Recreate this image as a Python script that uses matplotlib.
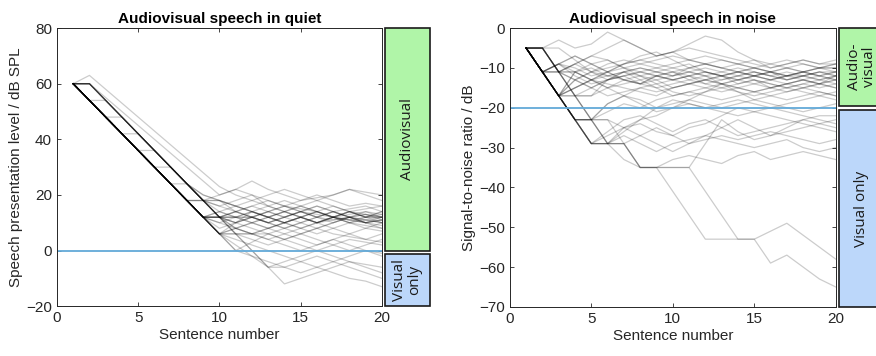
import matplotlib.pyplot as plt
from matplotlib.patches import Rectangle
import matplotlib.transforms as mtransforms
import numpy as np

plt.rcParams['font.family'] = ['Liberation Sans', 'DejaVu Sans']

sentences = np.arange(1, 21)

# adaptive tracks, audiovisual speech in quiet (dB SPL)
quiet_tracks = [
    [60, 54, 48, 42, 36, 30, 24, 18, 12, 12, 12, 12, 14, 12, 10, 12, 11, 12, 10, 11],
    [60, 54, 48, 42, 36, 30, 24, 18, 12, 6, 6, 6, 8, 10, 12, 10, 12, 14, 12, 12],
    [60, 54, 48, 42, 36, 30, 24, 18, 12, 6, 0, 3, 6, 8, 10, 8, 10, 12, 11, 10],
    [60, 54, 48, 42, 36, 30, 24, 18, 18, 18, 14, 12, 10, 12, 14, 16, 14, 12, 13, 12],
    [60, 54, 48, 42, 36, 30, 24, 18, 12, 12, 12, 12, 10, 8, 10, 12, 14, 12, 10, 9],
    [60, 60, 54, 48, 42, 36, 30, 24, 18, 12, 6, 6, 6, 4, 6, 8, 6, 5, 4, 6],
    [60, 60, 54, 48, 42, 36, 30, 24, 18, 12, 6, 0, -6, -4, -2, 0, 2, 4, 3, 2],
    [60, 54, 54, 48, 42, 36, 30, 24, 18, 12, 14, 16, 14, 12, 14, 13, 12, 11, 12, 13],
    [60, 54, 48, 48, 42, 36, 30, 24, 18, 16, 14, 12, 14, 16, 15, 14, 12, 13, 14, 12],
    [60, 54, 48, 42, 42, 36, 30, 24, 18, 14, 12, 10, 12, 14, 12, 10, 11, 12, 10, 11],
    [60, 54, 48, 42, 36, 36, 30, 24, 18, 12, 10, 12, 14, 16, 14, 12, 14, 15, 16, 14],
    [60, 54, 48, 42, 36, 30, 30, 24, 20, 18, 16, 14, 12, 10, 12, 14, 12, 10, 8, 10],
    [60, 63, 58, 53, 48, 43, 38, 33, 28, 23, 20, 18, 16, 14, 12, 10, 12, 14, 13, 12],
    [60, 60, 55, 50, 45, 40, 35, 30, 25, 20, 22, 20, 18, 16, 18, 20, 18, 16, 17, 16],
    [60, 54, 48, 42, 36, 30, 24, 18, 12, 6, 2, -2, -6, -12, -10, -8, -6, -4, -5, -6],
    [60, 54, 48, 42, 36, 30, 24, 18, 12, 6, 4, 2, 0, -2, -4, -6, -8, -10, -11, -13],
    [60, 60, 54, 48, 42, 36, 30, 24, 18, 12, 10, 8, 6, 4, 2, 0, -2, -4, -6, -8],
    [60, 54, 48, 42, 36, 30, 24, 18, 12, 14, 16, 18, 20, 22, 20, 18, 20, 22, 21, 20],
    [60, 54, 48, 42, 36, 30, 24, 18, 18, 20, 22, 25, 22, 20, 18, 19, 20, 22, 20, 18],
    [60, 54, 48, 42, 36, 30, 24, 18, 12, 8, 10, 12, 10, 8, 6, 8, 10, 12, 10, 8],
    [60, 54, 48, 42, 36, 30, 24, 18, 12, 6, 8, 10, 8, 6, 4, 2, 4, 6, 4, 3],
    [60, 60, 54, 48, 42, 36, 30, 24, 18, 12, 14, 12, 10, 12, 14, 16, 14, 12, 14, 13],
    [60, 60, 54, 48, 42, 36, 30, 24, 18, 18, 16, 14, 12, 14, 12, 10, 12, 11, 10, 12],
    [60, 54, 48, 42, 36, 30, 24, 18, 12, 12, 8, 6, 4, 2, 0, 2, 4, 2, 0, -2],
    [60, 54, 48, 42, 36, 30, 24, 24, 20, 18, 16, 14, 16, 18, 16, 14, 12, 14, 12, 14],
    [60, 54, 48, 42, 36, 30, 24, 18, 12, 6, 0, -2, -4, -6, -8, -6, -4, -2, 0, -1],
    [60, 54, 48, 42, 36, 30, 24, 18, 12, 10, 8, 10, 12, 10, 8, 10, 12, 10, 11, 10],
    [60, 54, 48, 42, 36, 30, 24, 18, 12, 12, 14, 16, 18, 16, 14, 12, 10, 12, 13, 11],
    [60, 60, 54, 48, 42, 36, 30, 24, 18, 12, 8, 6, 8, 10, 8, 6, 8, 10, 9, 8],
    [60, 54, 48, 42, 36, 30, 24, 18, 12, 6, 10, 14, 12, 10, 12, 14, 16, 14, 12, 10],
    [60, 54, 48, 42, 36, 30, 24, 18, 18, 16, 18, 20, 16, 14, 16, 18, 16, 14, 15, 16],
    [60, 54, 48, 42, 36, 30, 24, 18, 12, 6, 6, 4, 2, 4, 6, 4, 2, 0, 2, 4],
    [60, 60, 54, 48, 42, 36, 30, 24, 18, 12, 6, 0, -6, -6, -4, -2, -4, -6, -8, -10],
    [60, 54, 48, 42, 36, 30, 24, 18, 12, 12, 10, 12, 10, 12, 14, 12, 14, 12, 11, 12],
    [60, 54, 48, 42, 36, 30, 24, 18, 12, 14, 12, 10, 8, 10, 12, 14, 12, 10, 12, 14],
    [60, 54, 48, 42, 36, 30, 24, 18, 12, 6, 8, 6, 4, 6, 8, 10, 8, 6, 8, 7],
    [60, 54, 48, 42, 36, 30, 24, 18, 12, 12, 12, 14, 12, 10, 12, 10, 12, 11, 10, 11],
    [60, 54, 48, 42, 36, 30, 24, 18, 12, 10, 12, 14, 12, 14, 16, 14, 12, 14, 12, 12],
]

# adaptive tracks, audiovisual speech in noise (dB SNR)
noise_tracks = [
    [-5, -11, -17, -13, -15, -13, -12, -11, -12, -13, -12, -11, -12, -13, -12, -11, -12, -12, -11, -12],
    [-5, -11, -9, -7, -9, -11, -13, -12, -11, -10, -11, -12, -13, -12, -11, -12, -13, -12, -13, -12],
    [-5, -11, -17, -23, -23, -19, -17, -15, -16, -15, -14, -15, -16, -15, -14, -15, -16, -15, -14, -15],
    [-5, -5, -11, -17, -17, -15, -13, -14, -12, -13, -14, -13, -12, -11, -12, -13, -12, -11, -12, -13],
    [-5, -5, -11, -17, -23, -29, -26, -23, -20, -18, -19, -20, -19, -18, -19, -20, -19, -18, -17, -18],
    [-5, -11, -17, -23, -23, -29, -29, -35, -35, -41, -47, -53, -53, -53, -53, -59, -57, -60, -63, -65],
    [-5, -11, -17, -23, -29, -29, -29, -35, -35, -35, -35, -41, -47, -53, -53, -51, -49, -52, -55, -58],
    [-5, -11, -17, -23, -29, -26, -23, -22, -24, -26, -24, -23, -25, -27, -26, -25, -24, -23, -22, -22],
    [-5, -11, -17, -17, -15, -13, -11, -10, -11, -12, -10, -9, -8, -9, -10, -11, -10, -9, -10, -10],
    [-5, -5, -11, -9, -7, -8, -10, -9, -8, -7, -8, -9, -10, -9, -8, -9, -10, -11, -10, -9],
    [-5, -11, -11, -9, -7, -5, -3, -5, -7, -6, -5, -6, -7, -8, -9, -10, -9, -8, -9, -8],
    [-5, -5, -3, -5, -4, -1, -3, -5, -7, -6, -8, -9, -10, -11, -10, -11, -12, -11, -10, -11],
    [-5, -11, -17, -15, -13, -14, -15, -16, -17, -15, -14, -13, -14, -15, -16, -15, -14, -13, -14, -13],
    [-5, -11, -17, -23, -23, -21, -19, -20, -18, -17, -16, -17, -18, -17, -16, -17, -18, -17, -16, -17],
    [-5, -11, -9, -11, -13, -15, -17, -19, -21, -20, -19, -20, -21, -22, -21, -20, -21, -22, -23, -24],
    [-5, -5, -11, -17, -23, -29, -27, -29, -31, -29, -28, -27, -28, -29, -30, -29, -28, -30, -31, -30],
    [-5, -11, -17, -23, -29, -29, -25, -23, -22, -20, -18, -16, -14, -15, -16, -15, -14, -15, -14, -15],
    [-5, -11, -17, -17, -17, -13, -11, -10, -11, -12, -11, -10, -11, -12, -11, -12, -13, -12, -13, -12],
    [-5, -11, -11, -11, -9, -11, -10, -11, -12, -13, -12, -11, -12, -13, -14, -13, -12, -13, -14, -13],
    [-5, -5, -5, -8, -11, -10, -9, -8, -9, -10, -9, -11, -12, -11, -10, -11, -12, -11, -12, -11],
    [-5, -11, -17, -23, -29, -29, -29, -27, -25, -27, -29, -28, -27, -28, -27, -26, -27, -28, -29, -28],
    [-5, -11, -17, -23, -23, -23, -29, -35, -35, -35, -35, -29, -23, -26, -28, -27, -26, -25, -24, -23],
    [-5, -11, -9, -7, -9, -8, -10, -12, -14, -13, -12, -14, -15, -14, -13, -14, -15, -14, -15, -14],
    [-5, -5, -11, -13, -15, -17, -16, -15, -14, -16, -17, -16, -15, -16, -17, -16, -15, -16, -17, -16],
    [-5, -11, -17, -15, -13, -11, -9, -7, -6, -8, -10, -11, -12, -11, -12, -13, -12, -11, -12, -11],
    [-5, -11, -17, -23, -23, -19, -17, -18, -20, -19, -18, -19, -20, -19, -18, -19, -20, -21, -20, -19],
    [-5, -5, -11, -11, -13, -15, -14, -13, -12, -11, -12, -13, -14, -13, -12, -13, -14, -13, -12, -13],
    [-5, -11, -17, -13, -11, -12, -13, -14, -15, -14, -13, -14, -13, -12, -13, -14, -15, -14, -13, -14],
    [-5, -11, -17, -23, -29, -27, -25, -24, -26, -27, -25, -24, -22, -20, -21, -22, -23, -24, -25, -26],
    [-5, -11, -11, -13, -11, -9, -8, -9, -10, -11, -10, -9, -10, -11, -12, -11, -10, -11, -10, -10],
    [-5, -11, -17, -11, -13, -12, -11, -13, -15, -17, -16, -15, -14, -16, -18, -17, -16, -15, -16, -17],
    [-5, -5, -11, -17, -23, -23, -25, -27, -29, -31, -29, -27, -25, -23, -25, -27, -25, -23, -24, -25],
    [-5, -11, -17, -23, -29, -29, -33, -35, -35, -33, -32, -33, -34, -32, -31, -33, -32, -31, -32, -33],
    [-5, -11, -9, -12, -14, -13, -12, -11, -10, -9, -8, -7, -8, -9, -10, -9, -8, -9, -10, -9],
    [-5, -11, -17, -15, -13, -11, -9, -8, -7, -6, -4, -2, -3, -6, -8, -10, -9, -8, -9, -9],
    [-5, -11, -17, -11, -10, -12, -11, -12, -13, -12, -11, -12, -11, -10, -11, -12, -11, -12, -11, -12],
    [-5, -11, -9, -10, -12, -11, -13, -14, -12, -11, -13, -12, -14, -13, -12, -11, -13, -12, -11, -11],
    [-5, -5, -11, -9, -11, -13, -12, -14, -13, -15, -14, -13, -12, -14, -13, -15, -14, -13, -14, -12],
]

quiet_threshold = 0
noise_threshold = -20

fig = plt.figure(figsize=(8.76, 3.56), dpi=100)
ax1 = fig.add_axes([0.065, 0.140, 0.371, 0.781])
ax2 = fig.add_axes([0.582, 0.138, 0.372, 0.783])

text_col = '#262626'
green = '#b0f5a8'
blue = '#bcd7fa'
line_blue = '#62a9d8'


def style(ax, ylim, yticks):
    ax.set_xlim(0, 20)
    ax.set_ylim(*ylim)
    ax.set_xticks([0, 5, 10, 15, 20])
    ax.set_yticks(yticks)
    ax.tick_params(direction='in', top=True, right=True, labelsize=11,
                   colors=text_col, length=3, width=0.6)
    for s in ax.spines.values():
        s.set_color(text_col)
        s.set_linewidth(0.7)
    ax.set_xlabel('Sentence number', fontsize=11, color=text_col, labelpad=2)


def side_box(ax, y0, y1, label, x0=1.009, w=0.138):
    tr = mtransforms.blended_transform_factory(ax.transAxes, ax.transData)
    rect = Rectangle((x0, y0), w, y1 - y0, transform=tr, clip_on=False,
                     facecolor=green if 'udio' in label else blue,
                     edgecolor='#1a1a1a', linewidth=1.2)
    ax.add_patch(rect)
    ax.text(x0 + w / 2, (y0 + y1) / 2, label, transform=tr, rotation=90,
            ha='center', va='center', fontsize=11, family=['Open Sans'],
            color='#1a1a1a', linespacing=1.0, clip_on=False)


# quiet panel
for tr_vals in quiet_tracks:
    ax1.plot(sentences, tr_vals, color='black', alpha=0.2, linewidth=0.9)
ax1.axhline(quiet_threshold, color=line_blue, linewidth=1.3)
style(ax1, (-20, 80), [-20, 0, 20, 40, 60, 80])
ax1.set_ylabel('Speech presentation level / dB SPL', fontsize=11, color=text_col, labelpad=2)
ax1.set_title('Audiovisual speech in quiet', fontsize=11, fontweight='bold', pad=4)
side_box(ax1, 0, 80, 'Audiovisual')
side_box(ax1, -20, -1.3, 'Visual\nonly')

# noise panel
for tr_vals in noise_tracks:
    ax2.plot(sentences, tr_vals, color='black', alpha=0.2, linewidth=0.9)
ax2.axhline(noise_threshold, color=line_blue, linewidth=1.3)
style(ax2, (-70, 0), [-70, -60, -50, -40, -30, -20, -10, 0])
ax2.set_ylabel('Signal-to-noise ratio / dB', fontsize=11, color=text_col, labelpad=2)
ax2.set_title('Audiovisual speech in noise', fontsize=11, fontweight='bold', pad=4)
side_box(ax2, -19.5, 0, 'Audio-\nvisual', x0=1.011)
side_box(ax2, -70, -20.6, 'Visual only', x0=1.011)

fig.savefig('out.png', dpi=100)
